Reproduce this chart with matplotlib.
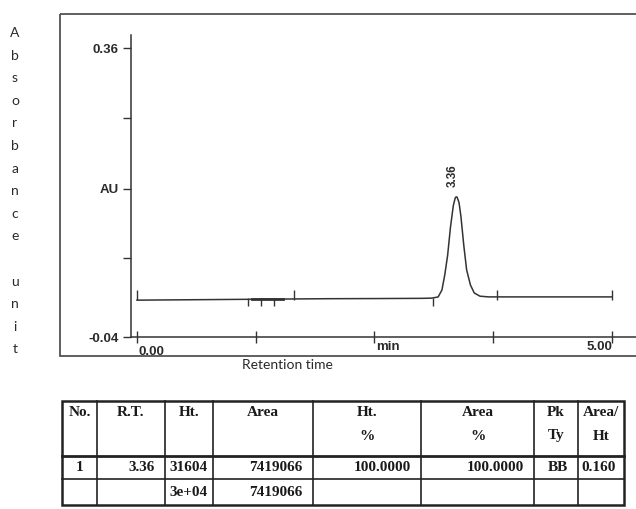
import matplotlib.pyplot as plt
from matplotlib.patches import Rectangle

# chromatogram trace (time in min, absorbance in AU)
time = [0.00, 0.50, 1.00, 1.50, 2.00, 2.50, 3.00, 3.10, 3.17, 3.21, 3.24, 3.27,
        3.30, 3.33, 3.35, 3.36, 3.37, 3.39, 3.41, 3.44, 3.47, 3.51, 3.55, 3.61,
        3.70, 4.00, 4.50, 5.00]
absorbance = [0.011, 0.0115, 0.012, 0.0125, 0.013, 0.0132, 0.0135, 0.0138, 0.0154,
              0.025, 0.046, 0.073, 0.112, 0.142, 0.1525, 0.154, 0.1535, 0.146,
              0.127, 0.087, 0.053, 0.032, 0.021, 0.0165, 0.0155, 0.0155, 0.0155,
              0.0155]

peak_rt = 3.36
peak_label = "3.36"
up_marks = [0.00, 1.65, 3.79, 5.00]
down_marks = [1.17, 1.31, 1.44, 3.12]
baseline = 0.0135

y_ticks = [-0.04, 0.07, 0.165, 0.263, 0.36]
y_labels = ["-0.04", "", "AU", "", "0.36"]
x_ticks = [0.0, 1.25, 2.5, 3.75, 5.0]

# result table
header = ["No.", "R.T.", "Ht.", "Area", "Ht.\n%", "Area\n%", "Pk\nTy", "Area/\nHt"]
row1 = ["1", "3.36", "31604", "7419066", "100.0000", "100.0000", "BB", "0.160"]
row2 = ["", "", "3e+04", "7419066", "", "", "", ""]
y_letters = list("Absorbance unit")

W, H = 636, 509
fig = plt.figure(figsize=(W / 100, H / 100), dpi=100)

# overlay in pixel coords for the frame, table and loose text
ov = fig.add_axes([0, 0, 1, 1])
ov.set_xlim(0, W)
ov.set_ylim(H, 0)
ov.axis("off")
ov.patch.set_alpha(0)

ink = "#2a2a2a"
afont = dict(fontsize=9.5, fontweight="bold", family="Liberation Sans", color=ink)

# outer box of the printout
ov.add_patch(Rectangle((60, 14), 600, 342, fill=False, ec="#444444", lw=1.2))

# main chromatogram axes
ax = fig.add_axes([131 / W, 1 - 337 / H, (W - 131) / W, (337 - 35) / H])
ax.patch.set_alpha(0)
ax.set_xlim(-0.063, 5.253)
ax.set_ylim(-0.04, 0.378)
for s in ["top", "right"]:
    ax.spines[s].set_visible(False)
for s in ["left", "bottom"]:
    ax.spines[s].set_color("#333333")
    ax.spines[s].set_linewidth(1.1)

ax.set_yticks(y_ticks)
ax.set_yticklabels(y_labels, **afont)
ax.tick_params(axis="y", direction="out", length=6, width=1, color="#333333", pad=3)
ax.set_xticks(x_ticks)
ax.set_xticklabels([])
ax.tick_params(axis="x", direction="inout", length=8, width=1, color="#333333")

tr = ax.get_xaxis_transform()
ax.text(0.02, -0.03, "0.00", transform=tr, ha="left", va="top", **afont)
ax.text(2.52, -0.012, "min", transform=tr, ha="left", va="top", **afont)
ax.text(5.0, -0.012, "5.00", transform=tr, ha="right", va="top", **afont)

# trace and event marks
ax.plot(time, absorbance, color="#333333", lw=1.1)
ax.plot([1.21, 1.54], [baseline - 0.0005, baseline - 0.0005], color="#333333", lw=2)
ax.vlines(up_marks, baseline - 0.002, baseline + 0.012, color="#333333", lw=1)
ax.vlines(down_marks, baseline - 0.011, baseline, color="#333333", lw=1)
ax.text(peak_rt - 0.035, 0.168, peak_label, rotation=90, ha="center", va="bottom",
        fontsize=8.5, fontweight="bold", family="Liberation Sans", color=ink)

# axis titles
ov.text(287, 365, "Retention time", ha="center", va="center", fontsize=10,
        family="Lato", color=ink)
for i, ch in enumerate(y_letters):
    ov.text(15, 33 + 22.6 * i, ch, ha="center", va="center", fontsize=10,
            family="Lato", color=ink)

# table grid
cols = [62, 97, 165, 213, 313, 421, 534, 578, 624]
rows = [401, 456, 479, 505]
ov.add_patch(Rectangle((cols[0], rows[0]), cols[-1] - cols[0], rows[-1] - rows[0],
                       fill=False, ec="#222222", lw=1.8))
for x in cols[1:-1]:
    ov.plot([x, x], [rows[0], rows[-1]], color="#222222", lw=1.2)
ov.plot([cols[0], cols[-1]], [rows[1], rows[1]], color="#222222", lw=2)
ov.plot([cols[0], cols[-1]], [rows[2], rows[2]], color="#222222", lw=1.2)

tfont = dict(family="Liberation Serif", fontweight="bold", fontsize=11, color="#1a1a1a")
for j, h in enumerate(header):
    cx = (cols[j] + cols[j + 1]) / 2
    for k, line in enumerate(h.split("\n")):
        ov.text(cx, 413 + 23 * k, line, ha="center", va="center", **tfont)

align = ["center", "right", "center", "right", "right", "right", "right", "left"]
for yy, row in [(467.5, row1), (492, row2)]:
    for j, val in enumerate(row):
        a = align[j]
        if a == "center":
            x = (cols[j] + cols[j + 1]) / 2
        elif a == "right":
            x = cols[j + 1] - 10
        else:
            x = cols[j] + 3
        ov.text(x, yy, val, ha=a, va="center", **tfont)

fig.savefig("out.png", dpi=100)
